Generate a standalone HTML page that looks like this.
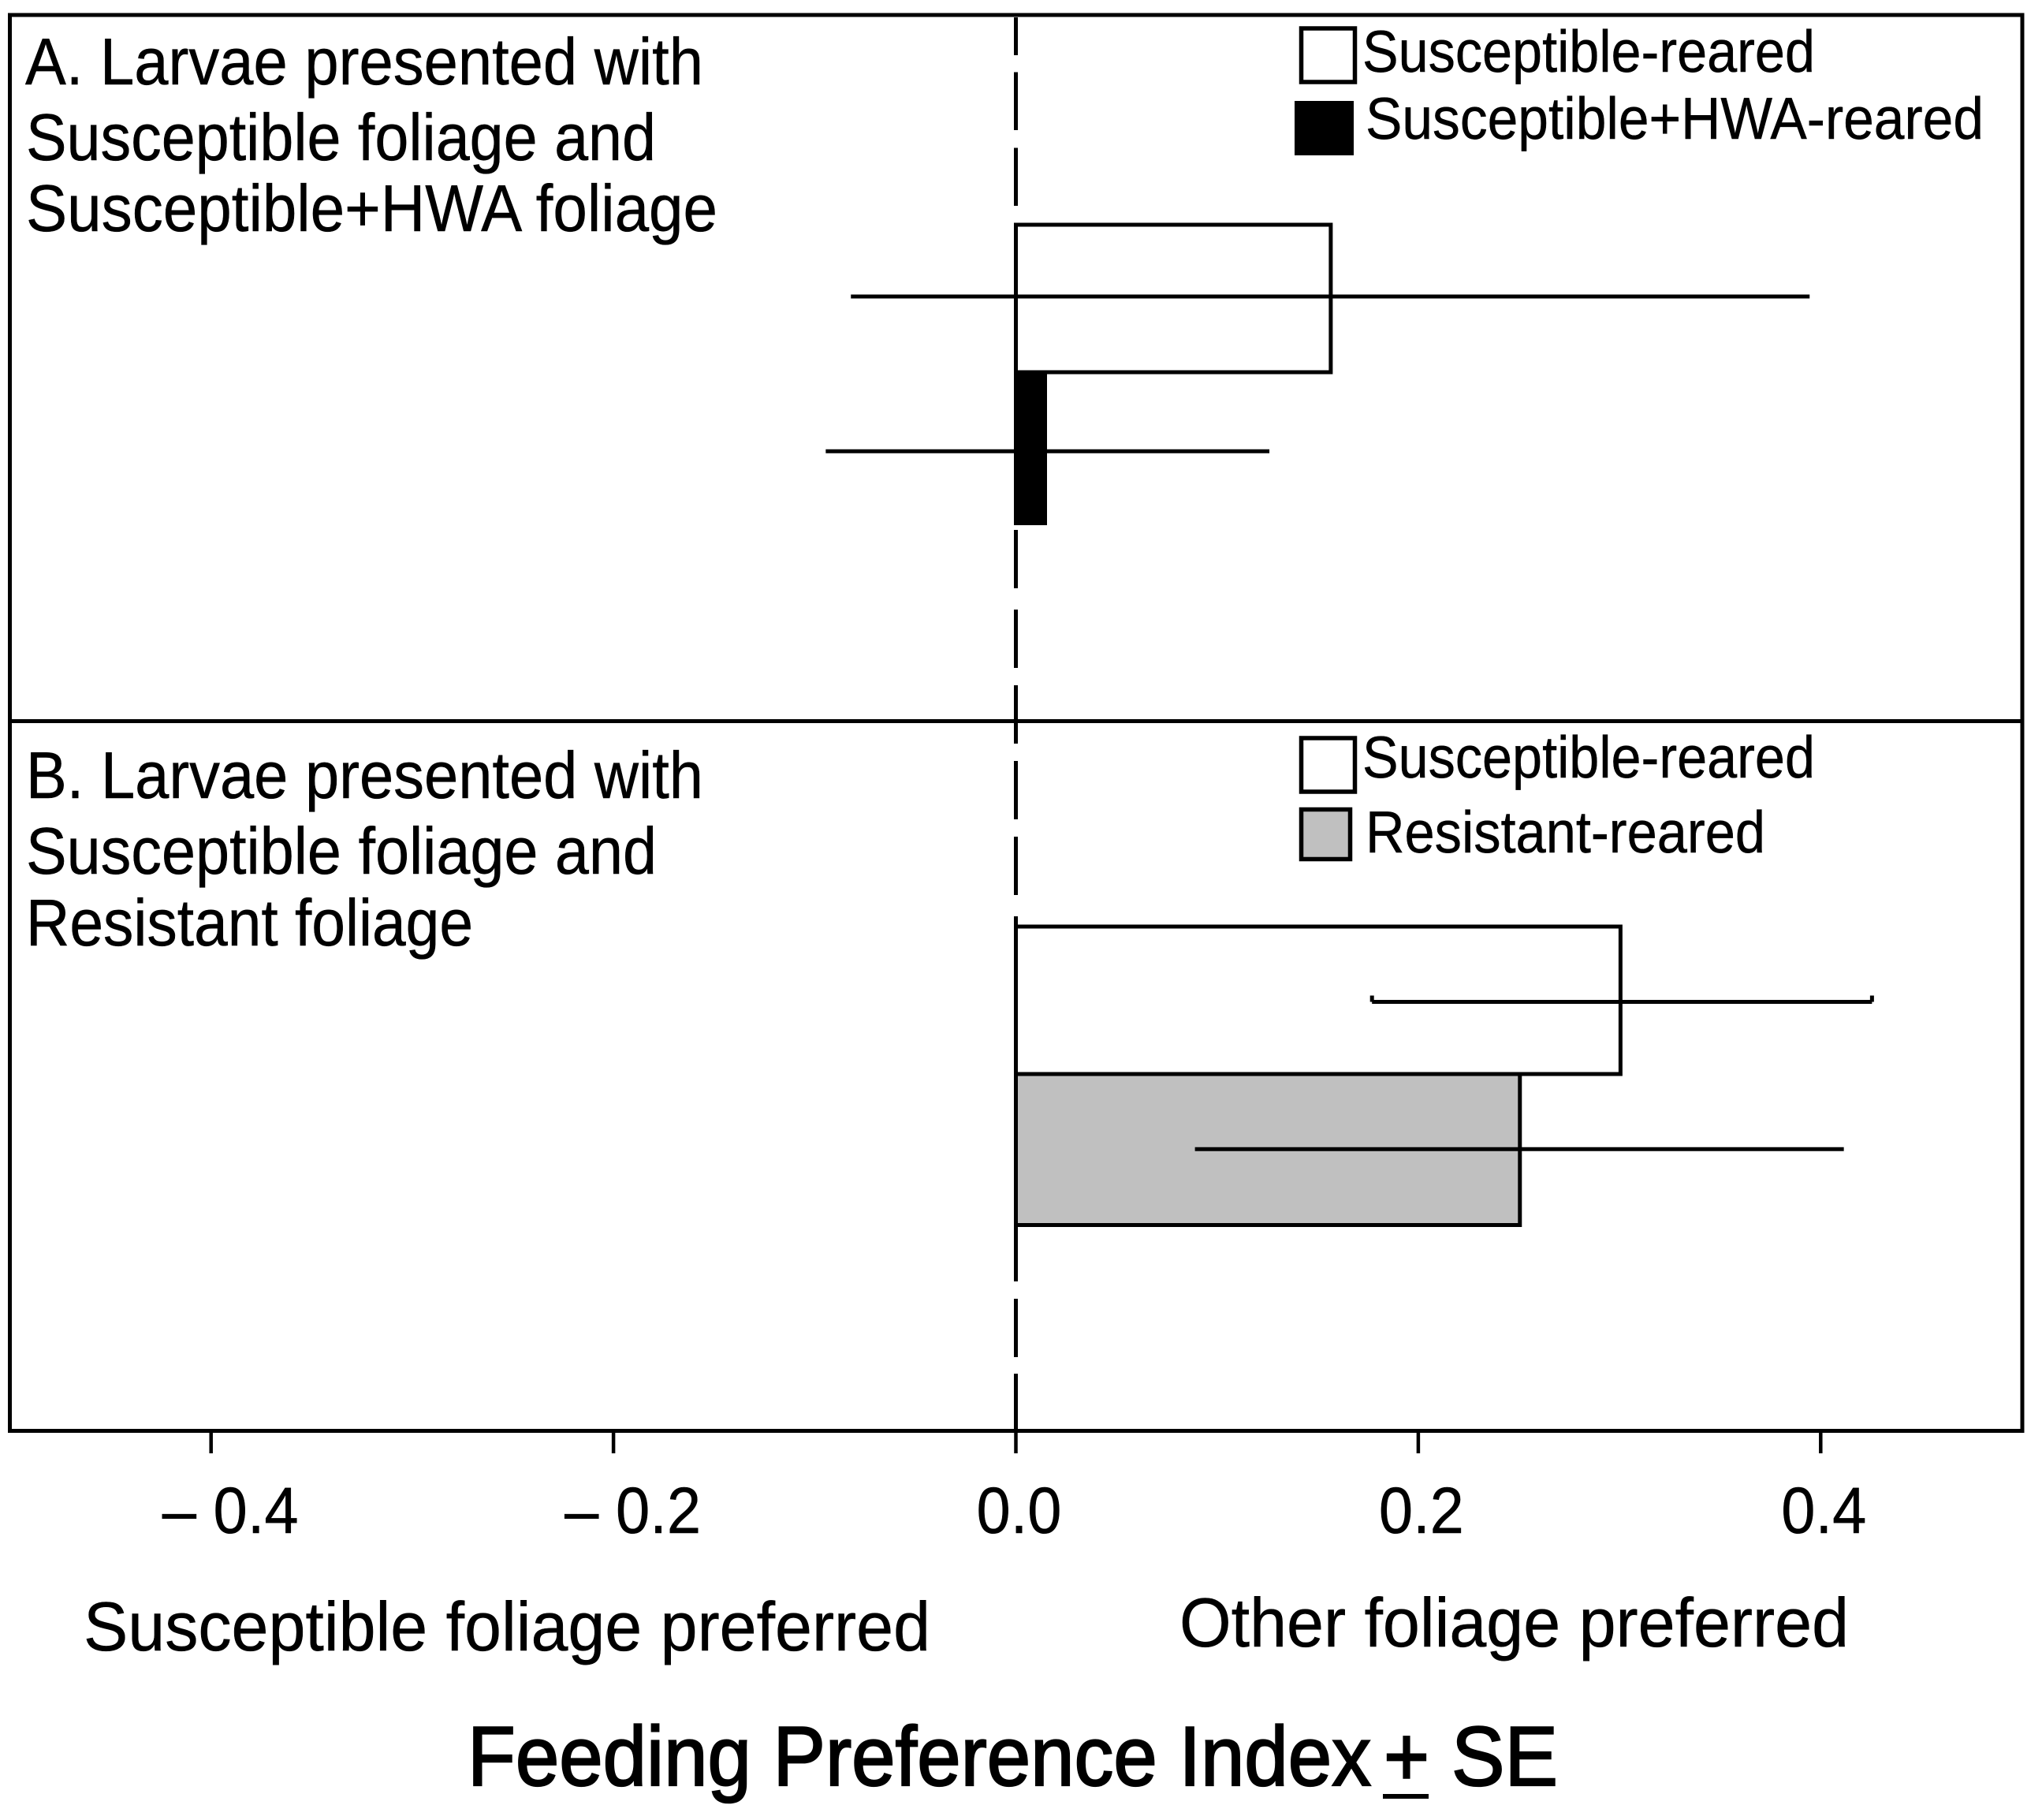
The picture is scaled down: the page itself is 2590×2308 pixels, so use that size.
<!DOCTYPE html>
<html lang="en">
<head>
<meta charset="utf-8">
<title>Feeding Preference Index</title>
<style>
  html, body { margin: 0; padding: 0; background: #fff; }
  svg { display: block; }
  text { font-family: "Liberation Sans", Arial, sans-serif; fill: #000; stroke: #000; stroke-width: 0.5px; text-rendering: geometricPrecision; }
  .panel-text { font-size: 84px; }
  .legend-text { font-size: 75px; }
  .tick-text { font-size: 83px; }
  .side-text { font-size: 88px; }
  .axis-title { font-size: 107px; stroke-width: 2.2px; }
  .bar { stroke: #000; stroke-width: 5px; }
  .susceptible { fill: #fff; }
  .hwa { fill: #000; }
  .resistant { fill: #c0c0c0; }
  .err { stroke: #000; stroke-width: 5px; fill: none; }
  .tick { stroke: #000; stroke-width: 4.5px; }
</style>
</head>
<body>
<svg id="chart" xmlns="http://www.w3.org/2000/svg" width="2590" height="2308" viewBox="0 0 2590 2308">
  <rect x="0" y="0" width="2590" height="2308" fill="#fff"/>

  <path id="zero-lines" fill="none" stroke="#000" stroke-width="5"
    d="M1288.5 22V70M1288.5 91.5V165M1288.5 187.5V261M1288.5 672V746M1288.5 773V847M1288.5 869V943M1288.5 965V1039M1288.5 1061V1135M1288.5 1162V1175M1288.5 1553V1625M1288.5 1647V1721M1288.5 1742V1814"/>

  <g id="bars"></g>
  <g id="errors"></g>
  <g id="ticks"></g>

  <rect x="12.5" y="19" width="2552.5" height="1795.5" fill="none" stroke="#000" stroke-width="5"/>
  <line x1="12" y1="914.5" x2="2565" y2="914.5" stroke="#000" stroke-width="5"/>

  <g>
    <text class="panel-text" x="32" y="107" textLength="860" lengthAdjust="spacingAndGlyphs">A. Larvae presented with</text>
    <text class="panel-text" x="33" y="203" textLength="799" lengthAdjust="spacingAndGlyphs">Susceptible foliage and</text>
    <text class="panel-text" x="33" y="293" textLength="877" lengthAdjust="spacingAndGlyphs">Susceptible+HWA foliage</text>
  </g>
  <g>
    <text class="panel-text" x="33" y="1012" textLength="859" lengthAdjust="spacingAndGlyphs">B. Larvae presented with</text>
    <text class="panel-text" x="33" y="1108" textLength="800" lengthAdjust="spacingAndGlyphs">Susceptible foliage and</text>
    <text class="panel-text" x="33" y="1199" textLength="567" lengthAdjust="spacingAndGlyphs">Resistant foliage</text>
  </g>

  <g>
    <g>
      <rect x="1650.5" y="36" width="68" height="68" fill="#fff" stroke="#000" stroke-width="5.5"/>
      <text class="legend-text" x="1728" y="91" textLength="574" lengthAdjust="spacingAndGlyphs">Susceptible-reared</text>
    </g>
    <g>
      <rect x="1642" y="128" width="75" height="69" fill="#000"/>
      <text class="legend-text" x="1732" y="176" textLength="784" lengthAdjust="spacingAndGlyphs">Susceptible+HWA-reared</text>
    </g>
  </g>
  <g>
    <g>
      <rect x="1650.5" y="936" width="68" height="68" fill="#fff" stroke="#000" stroke-width="5.5"/>
      <text class="legend-text" x="1728" y="986" textLength="574" lengthAdjust="spacingAndGlyphs">Susceptible-reared</text>
    </g>
    <g>
      <rect x="1650.5" y="1026.5" width="62" height="63" fill="#c0c0c0" stroke="#000" stroke-width="5.5"/>
      <text class="legend-text" x="1732" y="1081" textLength="507" lengthAdjust="spacingAndGlyphs">Resistant-reared</text>
    </g>
  </g>

  <g id="tick-labels"></g>

  <text class="side-text" x="106" y="2093" textLength="1074" lengthAdjust="spacingAndGlyphs">Susceptible foliage preferred</text>
  <text class="side-text" x="1496" y="2088" textLength="849" lengthAdjust="spacingAndGlyphs">Other foliage preferred</text>

  <g>
    <text class="axis-title" x="593" y="2264" textLength="1146" lengthAdjust="spacingAndGlyphs">Feeding Preference Index</text>
    <text class="axis-title" x="1755" y="2264" textLength="58" lengthAdjust="spacingAndGlyphs">+</text>
    <rect x="1754" y="2275" width="58" height="6" fill="#000"/>
    <text class="axis-title" x="1841" y="2264" textLength="135" lengthAdjust="spacingAndGlyphs">SE</text>
  </g>
</svg>

<script>
const categories = ["A susceptible-reared", "A susceptible+HWA-reared", "B susceptible-reared", "B resistant-reared"];
const seriesKeys = ["susceptible", "hwa", "susceptible", "resistant"];
const meanValues = [0.1565, 0.0145, 0.3005, 0.2505];
const lowerValues = [-0.082, -0.0945, 0.177, 0.089];
const upperValues = [0.3945, 0.126, 0.4255, 0.4115];
const tickValues = [-0.4, -0.2, 0.0, 0.2, 0.4];
const tickLabels = ["\u2013 0.4", "\u2013 0.2", "0.0", "0.2", "0.4"];

const svgNS = "http://www.w3.org/2000/svg";
function xScale(v) { return 1288.5 + v * 2552; }
function barTop(i) {
  const panelStart = i < 2 ? 285 : 1175;
  return panelStart + (i % 2) * 187;
}
function barHeight(i) { return i % 2 === 0 ? 187 : 191.5; }
function errY(i) {
  const mid = barTop(i) + barHeight(i) / 2;
  if (i === 0) return mid - 2.5;
  if (i === 1) return mid + 4.5;
  if (i === 2) return mid + 2;
  return mid - 0.5;
}

const barsGroup = document.getElementById("bars");
const errorsGroup = document.getElementById("errors");
const ticksGroup = document.getElementById("ticks");
const labelsGroup = document.getElementById("tick-labels");

categories.forEach(function (cat, i) {
  const x0 = xScale(0);
  const x1 = xScale(meanValues[i]);
  const bar = document.createElementNS(svgNS, "rect");
  bar.setAttribute("x", Math.min(x0, x1));
  bar.setAttribute("y", barTop(i));
  bar.setAttribute("width", Math.abs(x1 - x0));
  bar.setAttribute("height", barHeight(i));
  bar.setAttribute("class", "bar " + seriesKeys[i]);
  
  
  barsGroup.appendChild(bar);

  const y = errY(i);
  const err = document.createElementNS(svgNS, "line");
  err.setAttribute("x1", xScale(lowerValues[i]));
  err.setAttribute("x2", xScale(upperValues[i]));
  err.setAttribute("y1", y);
  err.setAttribute("y2", y);
  err.setAttribute("class", "err");
  
  
  errorsGroup.appendChild(err);

  if (i === 2) {
    [lowerValues[i], upperValues[i]].forEach(function (v) {
      const cap = document.createElementNS(svgNS, "line");
      cap.setAttribute("x1", xScale(v));
      cap.setAttribute("x2", xScale(v));
      cap.setAttribute("y1", y - 8);
      cap.setAttribute("y2", y);
      cap.setAttribute("class", "err");
      
      
      errorsGroup.appendChild(cap);
    });
  }
});

tickValues.forEach(function (v, i) {
  const x = xScale(v);
  const tick = document.createElementNS(svgNS, "line");
  tick.setAttribute("x1", x);
  tick.setAttribute("x2", x);
  tick.setAttribute("y1", 1814);
  tick.setAttribute("y2", 1843);
  tick.setAttribute("class", "tick");
  
  
  ticksGroup.appendChild(tick);

  const label = document.createElementNS(svgNS, "text");
  label.setAttribute("x", x + (v < 0 ? -62 : -50));
  label.setAttribute("y", 1944);
  label.setAttribute("class", "tick-text");
  label.setAttribute("textLength", v < 0 ? 173 : 108);
  label.setAttribute("lengthAdjust", "spacingAndGlyphs");
  
  
  label.textContent = tickLabels[i];
  labelsGroup.appendChild(label);
});
</script>
</body>
</html>
